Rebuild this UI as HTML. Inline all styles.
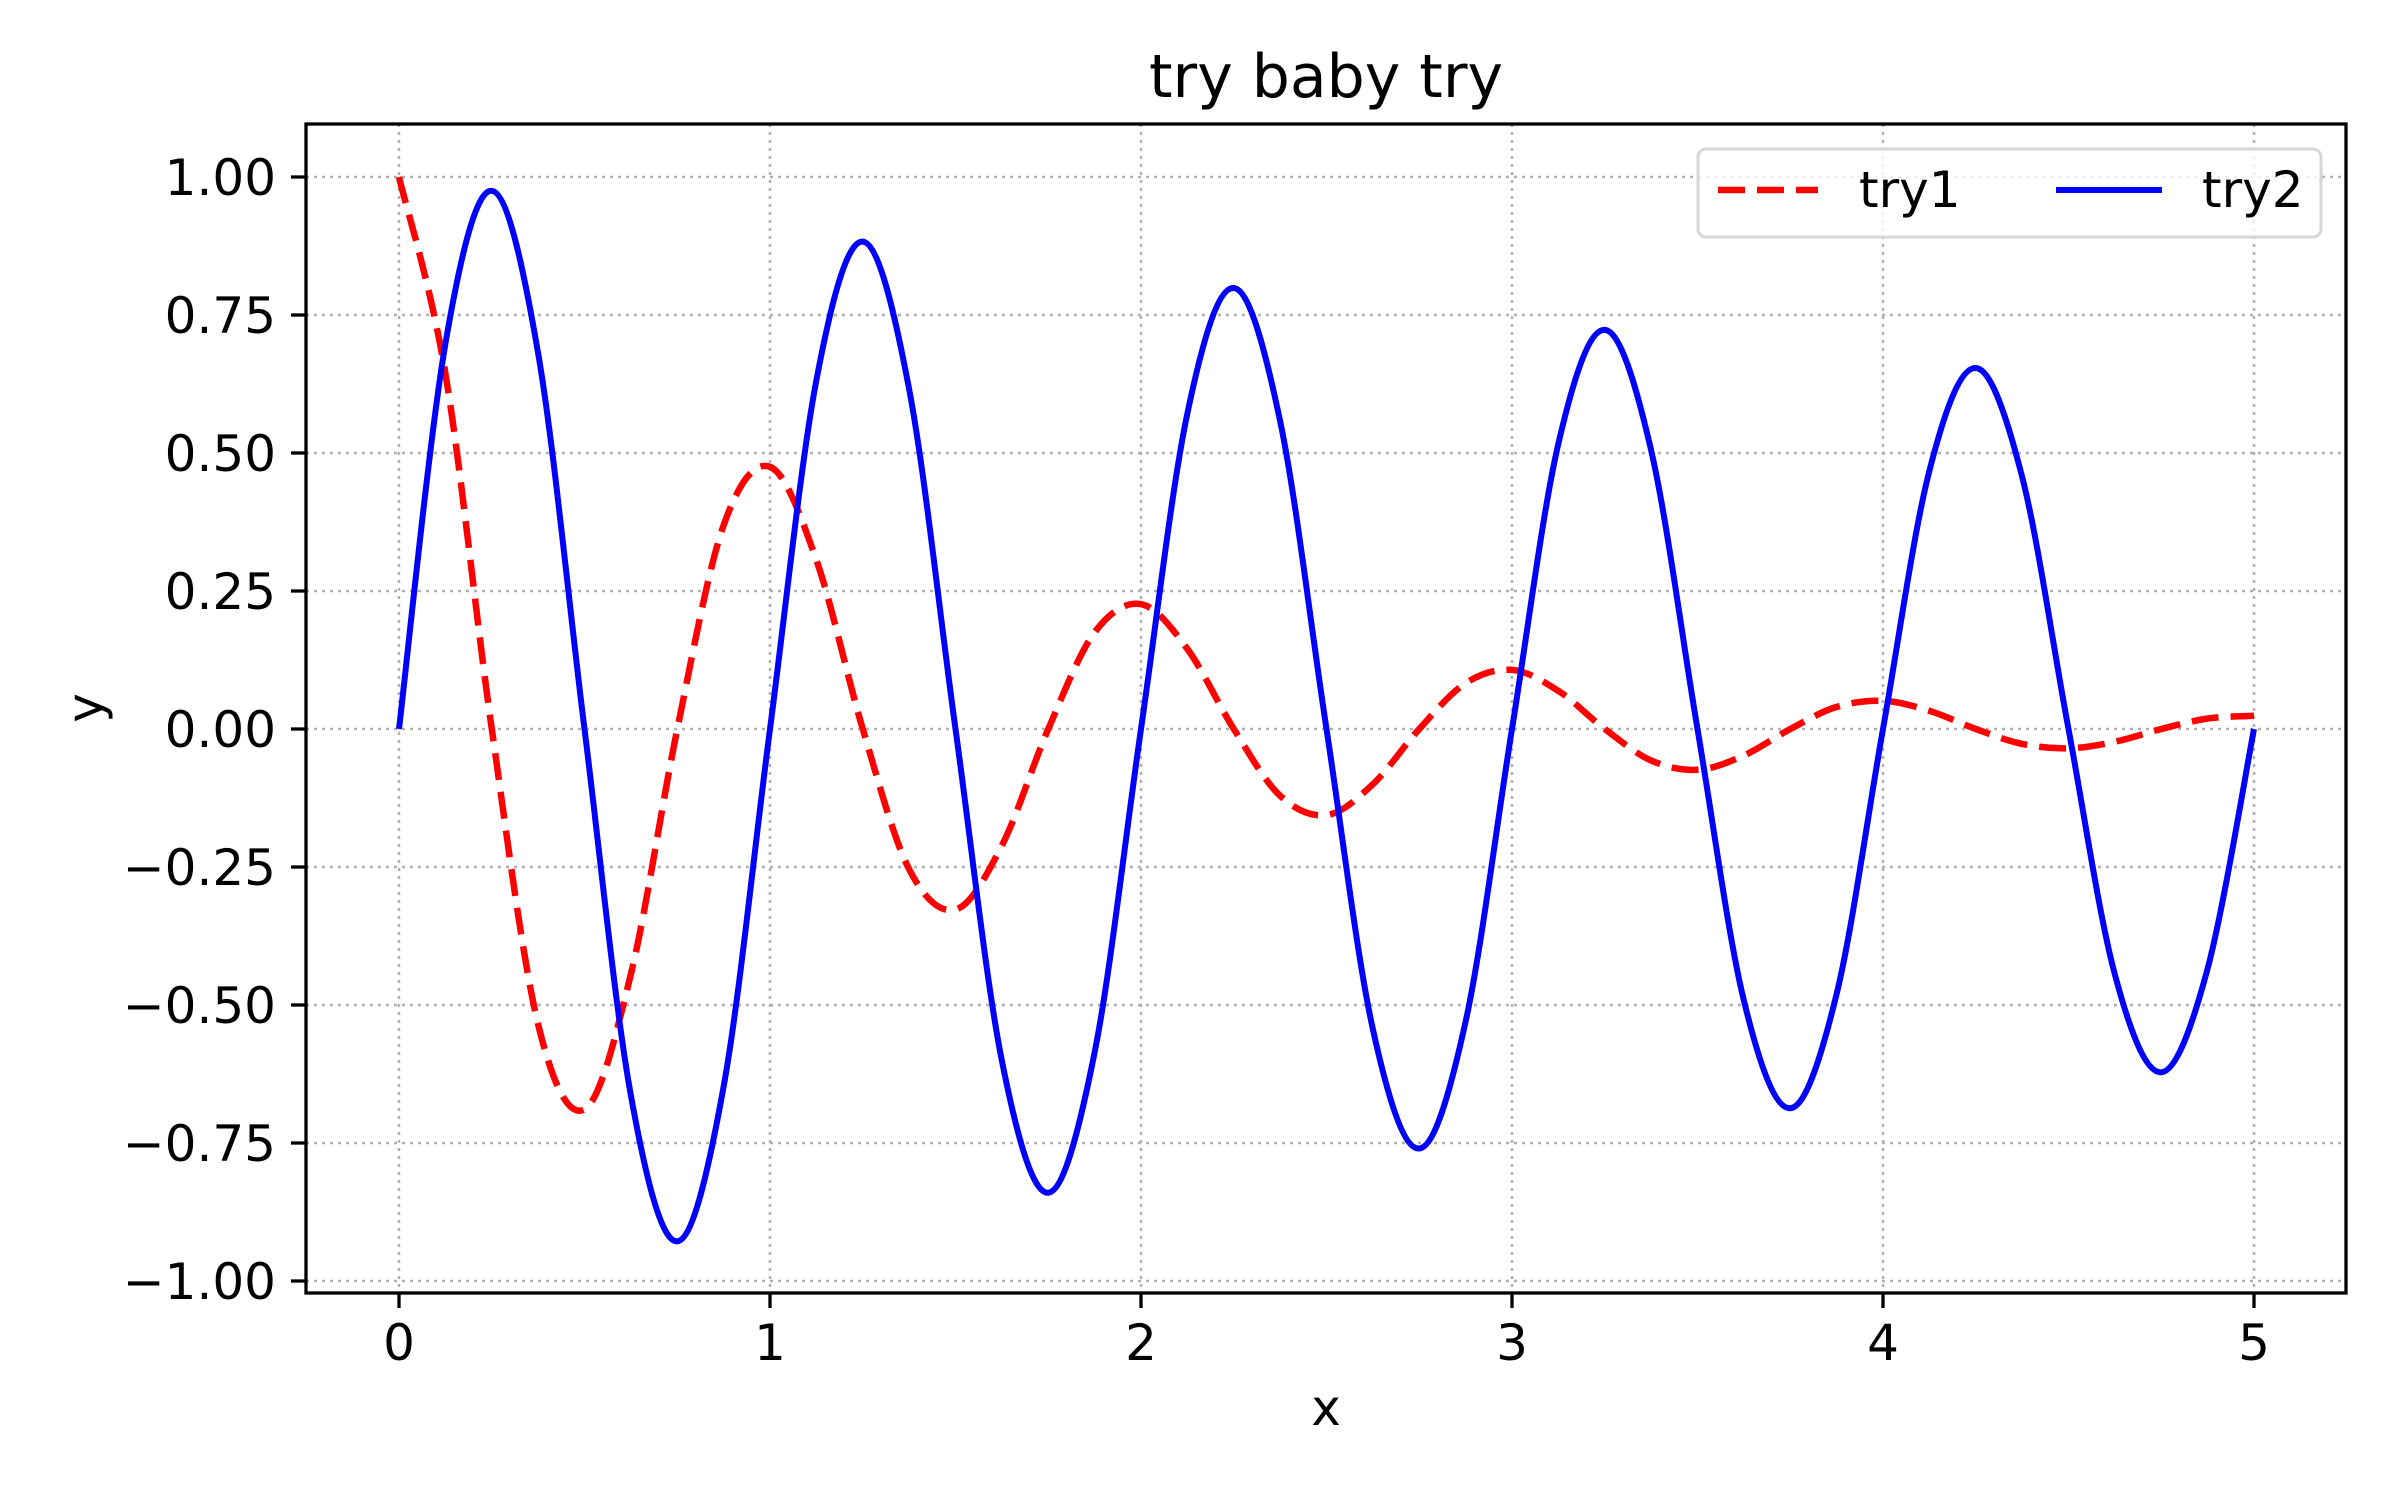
<!DOCTYPE html>
<html><head><meta charset="utf-8"><style>
html,body{margin:0;padding:0;background:#fff;}
svg{display:block;font-family:"DejaVu Sans","Liberation Sans",sans-serif;}
</style></head><body>
<svg id="chart" width="2400" height="1500" viewBox="0 0 2400 1500" xmlns="http://www.w3.org/2000/svg">
<rect width="2400" height="1500" fill="#fff"/>
<g id="grid"></g>
<g id="series"></g>
<rect x="306" y="124" width="2040" height="1169" fill="none" stroke="#000" stroke-width="3.3"/>
<g id="ticks"></g>
<text x="1326" y="97" font-size="60" text-anchor="middle">try baby try</text>
<text x="1326" y="1425" font-size="50" text-anchor="middle">x</text>
<text x="0" y="0" font-size="50" text-anchor="middle" transform="translate(102,708) rotate(-90)">y</text>
<g>
<rect x="1698" y="149" width="623" height="88" rx="8" fill="#fff" fill-opacity="0.8" stroke="#d6d6d6" stroke-width="3"/>
<line x1="1718" y1="190" x2="1818" y2="190" stroke="#ff0000" stroke-width="6.5" stroke-dasharray="27 12"/>
<text x="1859" y="207" font-size="50">try1</text>
<line x1="2056" y1="190" x2="2162" y2="190" stroke="#0000ff" stroke-width="6"/>
<text x="2202" y="207" font-size="50">try2</text>
</g>
</svg>
<script>
const xValues = [0,0.125,0.25,0.375,0.5,0.625,0.75,0.875,1,1.125,1.25,1.375,1.5,1.625,1.75,1.875,2,2.125,2.25,2.375,2.5,2.625,2.75,2.875,3,3.125,3.25,3.375,3.5,3.625,3.75,3.875,4,4.125,4.25,4.375,4.5,4.625,4.75,4.875,5];
const try1 = [1,0.644,0,-0.535,-0.689,-0.444,0,0.369,0.475,0.306,0,-0.254,-0.327,-0.211,0,0.175,0.226,0.145,0,-0.121,-0.156,-0.100,0,0.083,0.107,0.069,0,-0.057,-0.074,-0.048,0,0.040,0.051,0.033,0,-0.027,-0.035,-0.023,0,0.019,0.024];
const try2 = [0,0.698,0.975,0.681,0,-0.664,-0.928,-0.648,0,0.632,0.883,0.616,0,-0.601,-0.840,-0.586,0,0.572,0.799,0.558,0,-0.544,-0.760,-0.530,0,0.517,0.723,0.505,0,-0.492,-0.687,-0.480,0,0.468,0.654,0.457,0,-0.445,-0.622,-0.434,0];
const xTicks = [0,1,2,3,4,5];
const yTicks = [1,0.75,0.5,0.25,0,-0.25,-0.5,-0.75,-1];
const yTickLabels = ["1.00","0.75","0.50","0.25","0.00","\u22120.25","\u22120.50","\u22120.75","\u22121.00"];

const NS = "http://www.w3.org/2000/svg";
const L=306,R=2346,T=124,B=1293;
function sx(v){return 399 + v*371;}
function sy(v){return 729 - v*552;}
function mk(tag,attrs,parent){const e=document.createElementNS(NS,tag);for(const k in attrs)e.setAttribute(k,attrs[k]);parent.appendChild(e);return e;}
const grid=document.getElementById('grid'), ticks=document.getElementById('ticks'), series=document.getElementById('series');
xTicks.forEach(t=>{
  const g=mk('line',{x1:sx(t),x2:sx(t),y1:T,y2:B,stroke:'#b0b0b0','stroke-width':2.5,'stroke-dasharray':'3 5'},grid);
  
  
  const tk=mk('line',{x1:sx(t),x2:sx(t),y1:B,y2:B+15,stroke:'#000','stroke-width':3.3},ticks);
  
  
  const tx=mk('text',{x:sx(t),y:1360,'font-size':50,'text-anchor':'middle'},ticks);
  tx.textContent=String(t);
  
  
});
yTicks.forEach((t,i)=>{
  const g=mk('line',{x1:L,x2:R,y1:sy(t),y2:sy(t),stroke:'#b0b0b0','stroke-width':2.5,'stroke-dasharray':'3 5'},grid);
  
  
  const tk=mk('line',{x1:L-15,x2:L,y1:sy(t),y2:sy(t),stroke:'#000','stroke-width':3.3},ticks);
  
  
  const tx=mk('text',{x:276,y:sy(t)+18,'font-size':50,'text-anchor':'end'},ticks);
  tx.textContent=yTickLabels[i];
  
  
});
function pathFor(xs,ys){
  const p=xs.map((x,i)=>[sx(x),sy(ys[i])]);
  let d='M'+p[0][0]+','+p[0][1];
  for(let i=0;i<p.length-1;i++){
    const p0=p[Math.max(0,i-1)],p1=p[i],p2=p[i+1],p3=p[Math.min(p.length-1,i+2)];
    const c1=[p1[0]+(p2[0]-p0[0])/6,p1[1]+(p2[1]-p0[1])/6];
    const c2=[p2[0]-(p3[0]-p1[0])/6,p2[1]-(p3[1]-p1[1])/6];
    d+=' C'+c1[0].toFixed(1)+','+c1[1].toFixed(1)+' '+c2[0].toFixed(1)+','+c2[1].toFixed(1)+' '+p2[0].toFixed(1)+','+p2[1].toFixed(1);
  }
  return d;
}
const l1=mk('path',{d:pathFor(xValues,try1),fill:'none',stroke:'#ff0000','stroke-width':6.5,'stroke-dasharray':'27 12'},series);


const l2=mk('path',{d:pathFor(xValues,try2),fill:'none',stroke:'#0000ff','stroke-width':6},series);


</script>
</body></html>
